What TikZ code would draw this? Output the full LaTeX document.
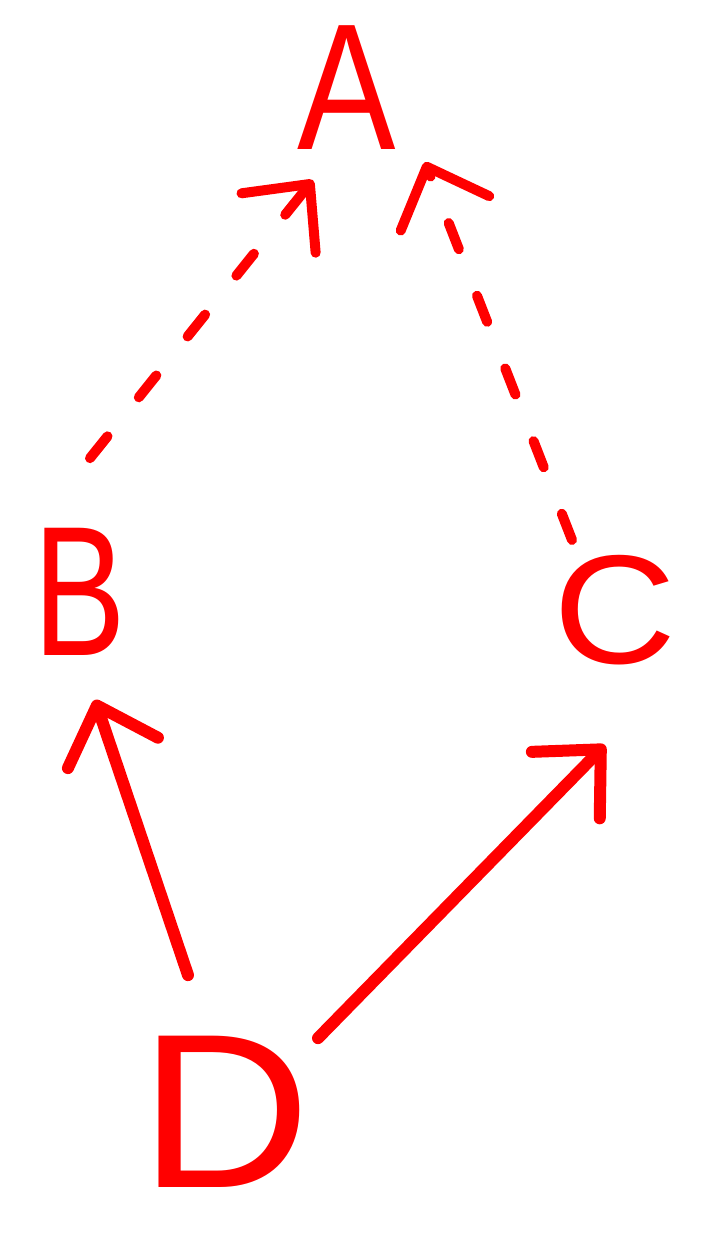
\documentclass[tikz,border=0pt]{standalone}
\usepackage{fontspec}
\setmainfont{Liberation Sans}
\usetikzlibrary{arrows.meta}
\definecolor{ink}{RGB}{255,0,0}
\tikzset{
  letter/.style={text=ink, inner sep=0pt, anchor=center},
  solidarrow/.style={draw=ink, line width=12pt, line cap=round, line join=round,
    -{Straight Barb[length=50pt, width=95pt, round]}},
  dasharrow/.style={solidarrow, line width=10pt, dash pattern=on 28pt off 50pt},
}
\begin{document}
\begin{tikzpicture}[x=1pt, y=-1pt]
\useasboundingbox (0,0) rectangle (715,1241);
\node[letter, font=\fontsize{180}{180}\selectfont] (A) at (347,88) {\scalebox{0.82}[1]{A}};
\node[letter, font=\fontsize{185}{185}\selectfont] (B) at (80,592) {\scalebox{0.75}[1]{B}};
\node[letter, font=\fontsize{155}{155}\selectfont] (C) at (615,610) {\scalebox{1.1}[1]{C}};
\node[letter, font=\fontsize{220}{220}\selectfont] (D) at (225,1112) {\scalebox{1.08}[1]{D}};
\draw[dasharrow] ([shift={(10,-70)}]B.north) -- ([shift={(-34,30)}]A.south);
\draw[dasharrow] ([shift={(-43,-15)}]C.north) -- ([shift={(78,12)}]A.south);
\draw[solidarrow] ([shift={(-37,-61)}]D.north) -- ([shift={(15,44)}]B.south);
\draw[solidarrow] ([shift={(93,2)}]D.north) -- ([shift={(-10,80)}]C.south);
\end{tikzpicture}
\end{document}
